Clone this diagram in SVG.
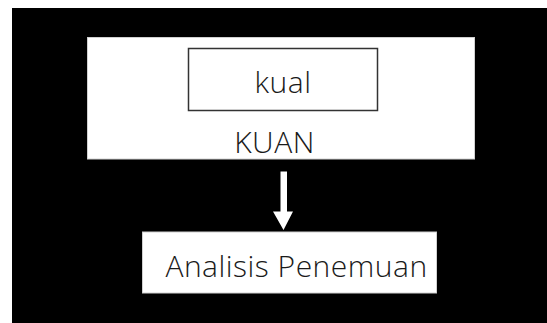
<svg xmlns="http://www.w3.org/2000/svg" width="547" height="323" viewBox="0 0 547 323">
<style>
text{font-family:"Open Sans","Noto Sans","DejaVu Sans",sans-serif;fill:#1a1a1a;text-anchor:middle;font-size:30px;font-weight:350;letter-spacing:0.5px}
.box{fill:#fff;stroke:#d0d0d0;stroke-width:1}
</style>
<rect x="0" y="0" width="547" height="323" fill="#fff"/>
<rect x="12" y="8" width="535" height="315" fill="#000"/>
<g id="kuan">
<rect class="box" x="87.5" y="37.5" width="387" height="121.5"/>
<text x="274.5" y="152.5">KUAN</text>
</g>
<g id="kual">
<rect x="188.5" y="48.5" width="189" height="62" fill="#fff" stroke="#333" stroke-width="1.5"/>
<text x="283" y="92.5">kual</text>
</g>
<g id="analisis">
<rect class="box" x="142.5" y="232" width="294" height="61"/>
<text x="296.5" y="276.5">Analisis Penemuan</text>
</g>
<g id="connectors">
<polygon points="280.5,171.5 287,171.5 287,211.5 293,211.5 283.5,230 273,211.5 280.5,211.5" fill="#fff"/>
</g>
</svg>
